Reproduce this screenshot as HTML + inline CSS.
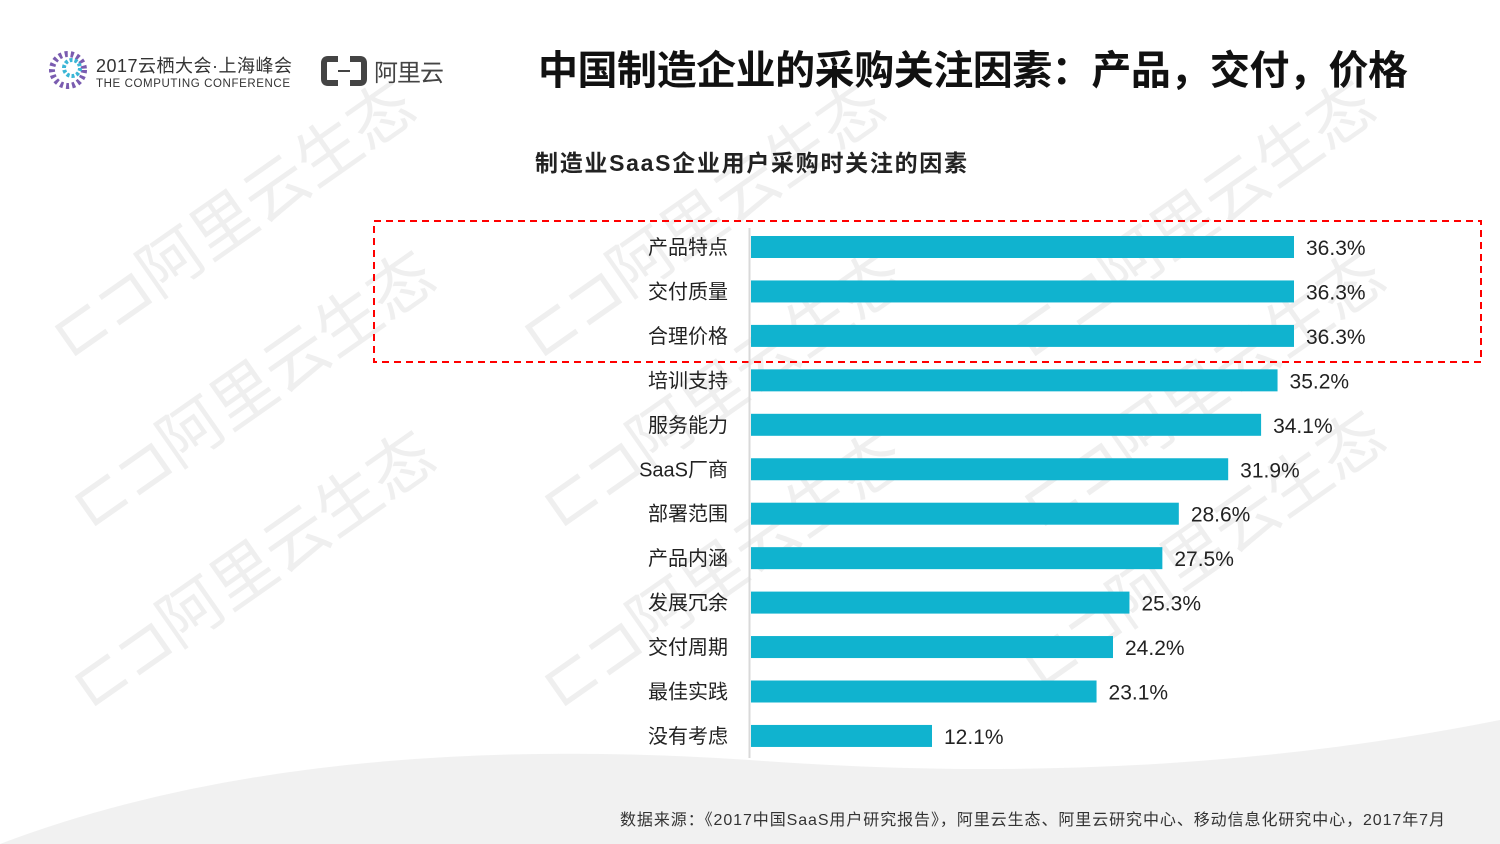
<!DOCTYPE html>
<html><head><meta charset="utf-8"><style>
body{margin:0;width:1500px;height:844px;overflow:hidden;background:#fff;font-family:"Liberation Sans","Noto Sans CJK SC",sans-serif;position:relative}
.abs{position:absolute}
</style></head><body>
<svg class="abs" style="left:0;top:0" width="1500" height="844">
<g fill="#efefef" font-size="64" font-family="Liberation Sans,Noto Sans CJK SC,sans-serif">
<text x="70" y="360" transform="rotate(-35 70 360)">⊏⊐阿里云生态</text>
<text x="90" y="530" transform="rotate(-35 90 530)">⊏⊐阿里云生态</text>
<text x="90" y="710" transform="rotate(-35 90 710)">⊏⊐阿里云生态</text>
<text x="540" y="360" transform="rotate(-35 540 360)">⊏⊐阿里云生态</text>
<text x="560" y="530" transform="rotate(-35 560 530)">⊏⊐阿里云生态</text>
<text x="560" y="710" transform="rotate(-35 560 710)">⊏⊐阿里云生态</text>
<text x="1030" y="360" transform="rotate(-35 1030 360)">⊏⊐阿里云生态</text>
<text x="1040" y="530" transform="rotate(-35 1040 530)">⊏⊐阿里云生态</text>
<text x="1040" y="690" transform="rotate(-35 1040 690)">⊏⊐阿里云生态</text>
</g>
<g fill="#d8d8d8">
<path d="M0 844 Q300 730 750 760 Q1150 790 1500 720 L1500 844 Z" opacity="0.35"/>
</g>
<g>
<circle cx="68" cy="70" r="16" fill="none" stroke="#7a5cb0" stroke-width="6" stroke-dasharray="3 3"/>
<circle cx="72" cy="68" r="8" fill="none" stroke="#3bb6d6" stroke-width="4" stroke-dasharray="3 2"/>
<text x="96" y="72" font-size="18" fill="#333" textLength="196">2017云栖大会·上海峰会</text>
<text x="96" y="87" font-size="11.5" fill="#333" textLength="194">THE COMPUTING CONFERENCE</text>
</g>
<g>
<path d="M338 59 H328 Q324 59 324 63 V79 Q324 83 328 83 H338 M350 59 H360 Q364 59 364 63 V79 Q364 83 360 83 H350" fill="none" stroke="#444" stroke-width="6"/>
<line x1="338" y1="71" x2="350" y2="71" stroke="#444" stroke-width="2"/>
<text x="374" y="81" font-size="24" fill="#444" textLength="70">阿里云</text>
</g>
<text x="538" y="84" font-size="40" font-weight="bold" fill="#111" textLength="870">中国制造企业的采购关注因素：产品，交付，价格</text>
<text x="535" y="171" font-size="23" font-weight="bold" fill="#222" textLength="432">制造业SaaS企业用户采购时关注的因素</text>
<rect x="374" y="221" width="1107" height="141" fill="none" stroke="#f00" stroke-width="2" stroke-dasharray="7 5"/>
<line x1="749.5" y1="228" x2="749.5" y2="758" stroke="#d9d9d9" stroke-width="2"/>
<g id="bars"></g>
<text x="620" y="825" font-size="16" fill="#333" textLength="825">数据来源：《2017中国SaaS用户研究报告》，阿里云生态、阿里云研究中心、移动信息化研究中心，2017年7月</text>
</svg>
<script>
const categories=["产品特点","交付质量","合理价格","培训支持","服务能力","SaaS厂商","部署范围","产品内涵","发展冗余","交付周期","最佳实践","没有考虑"];
const values=[36.3,36.3,36.3,35.2,34.1,31.9,28.6,27.5,25.3,24.2,23.1,12.1];
const x0=751,pxPer=543/36.3,y0=247,step=44.45,bh=22;
const xs=v=>x0+v*pxPer, ys=i=>y0+i*step;
const g=document.getElementById('bars'),NS='http://www.w3.org/2000/svg';
categories.forEach((c,i)=>{
 const r=document.createElementNS(NS,'rect');
 r.setAttribute('x',x0);r.setAttribute('y',ys(i)-bh/2);r.setAttribute('width',xs(values[i])-x0);r.setAttribute('height',bh);r.setAttribute('fill','#10b3cf');
 
 
 g.appendChild(r);
 const l=document.createElementNS(NS,'text');
 l.setAttribute('x',728);l.setAttribute('y',ys(i)+7);l.setAttribute('text-anchor','end');l.setAttribute('font-size','20');l.setAttribute('fill','#222');l.textContent=c;
 
 
 g.appendChild(l);
 const v=document.createElementNS(NS,'text');
 v.setAttribute('x',xs(values[i])+12);v.setAttribute('y',ys(i)+8);v.setAttribute('font-size','21');v.setAttribute('fill','#222');v.textContent=values[i].toFixed(1)+'%';
 
 
 g.appendChild(v);
});
</script>
</body></html>
